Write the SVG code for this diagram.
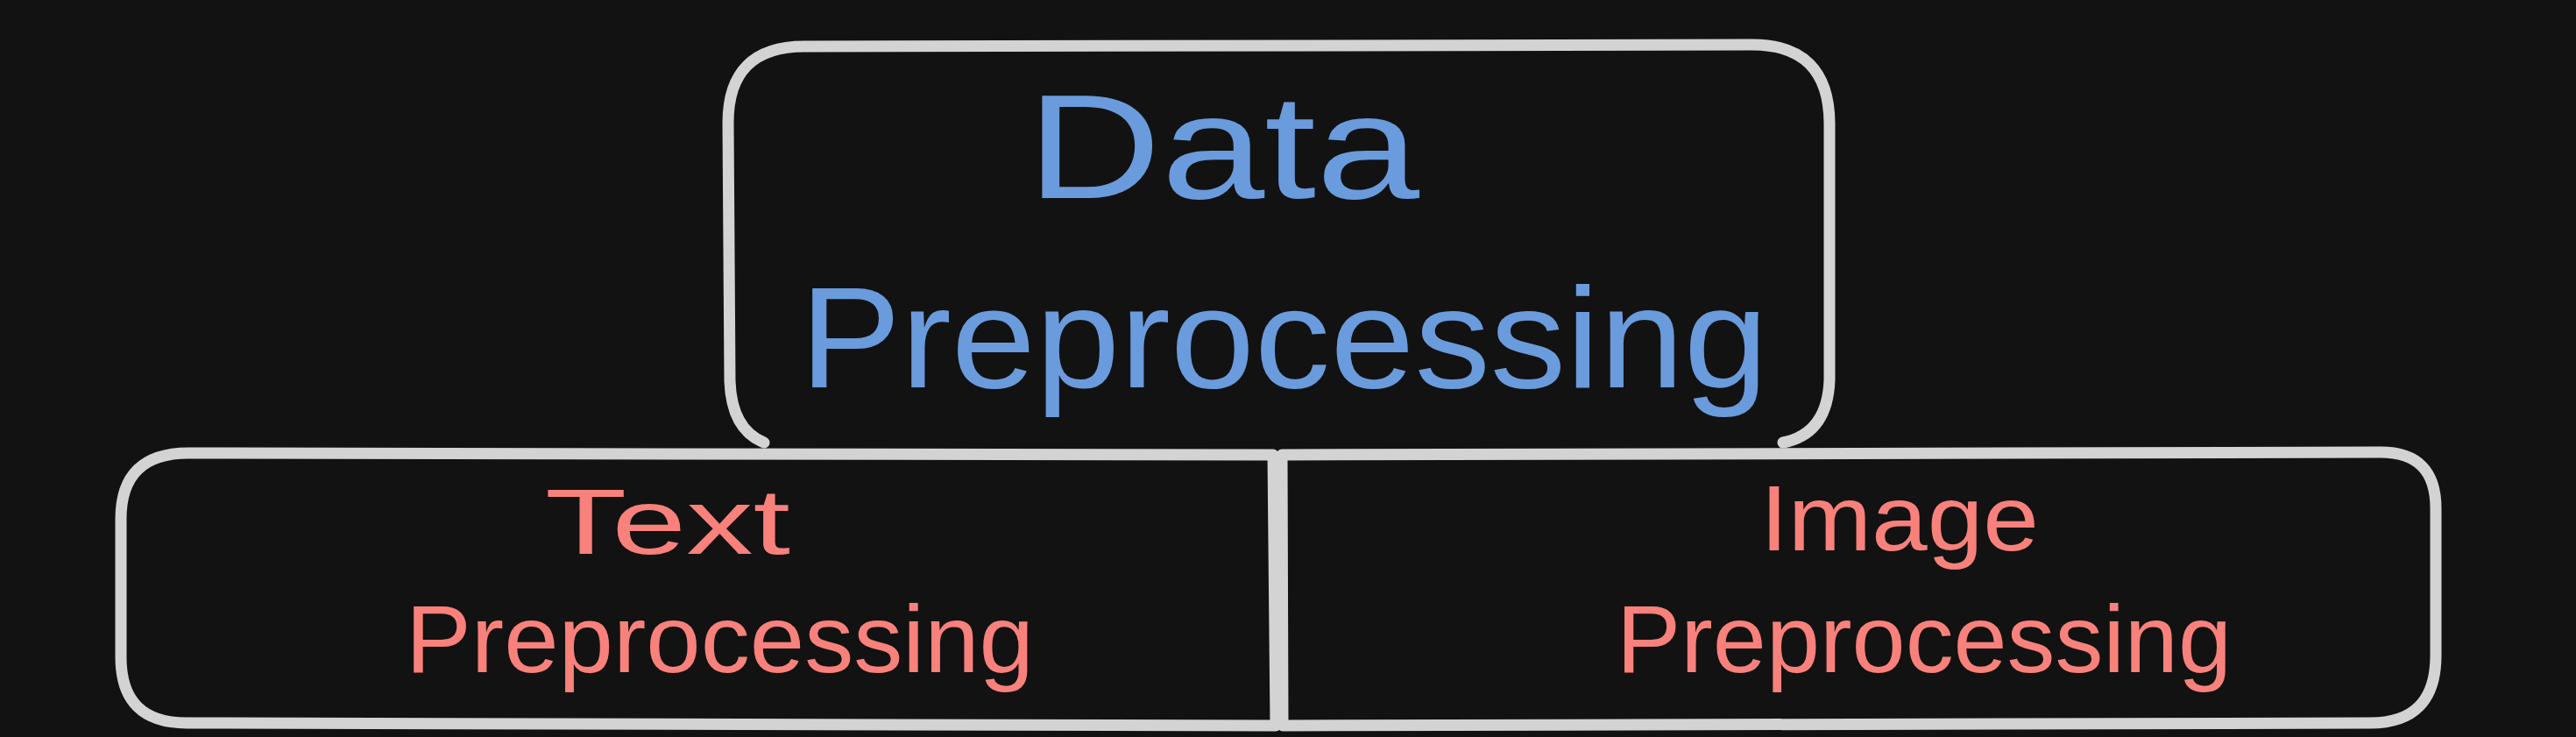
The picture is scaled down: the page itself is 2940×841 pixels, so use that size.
<svg xmlns="http://www.w3.org/2000/svg" width="2940" height="841" viewBox="0 0 2940 841">
  <style>
    .box { fill: none; stroke: #d3d3d3; stroke-width: 13; stroke-linecap: round; stroke-linejoin: round; }
    .lbl { font-family: "Liberation Sans", Arial, sans-serif; }
    .blue { fill: #6a9bdc; }
    .red { fill: #f8817b; }
  </style>
  <rect x="0" y="0" width="2940" height="841" fill="#121212"/>
  <g id="connectors"></g>
  <g id="node-data-preprocessing">
    <path class="box" d="M 872 505 Q 835 490 833 435 L 831 140 Q 831 53 918 53 L 2000 51 Q 2087 51 2088 140 L 2088 433 Q 2086 495 2035 505"/>
    <text class="lbl blue" x="1172" y="226" font-size="168" textLength="448" lengthAdjust="spacingAndGlyphs">Data</text>
    <text class="lbl blue" x="913" y="442" font-size="164" textLength="1105" lengthAdjust="spacingAndGlyphs">Preprocessing</text>
  </g>
  <g id="node-text-preprocessing">
    <path class="box" d="M 1453 519 L 215 517 Q 138 517 138 592 L 138 750 Q 138 825 213 825 L 1456 828 Z" stroke-linejoin="miter"/>
    <text class="lbl red" x="622" y="632" font-size="105" textLength="280" lengthAdjust="spacingAndGlyphs">Text</text>
    <text class="lbl red" x="463" y="767" font-size="110" textLength="717" lengthAdjust="spacingAndGlyphs">Preprocessing</text>
  </g>
  <g id="node-image-preprocessing">
    <path class="box" d="M 1463 519 L 2717 516 Q 2780 516 2780 580 L 2780 748 Q 2780 825 2705 825 L 1464 828 Z" stroke-linejoin="miter"/>
    <text class="lbl red" x="2009" y="628" font-size="105" textLength="318" lengthAdjust="spacingAndGlyphs">Image</text>
    <text class="lbl red" x="1845" y="767" font-size="110" textLength="702" lengthAdjust="spacingAndGlyphs">Preprocessing</text>
  </g>
</svg>
